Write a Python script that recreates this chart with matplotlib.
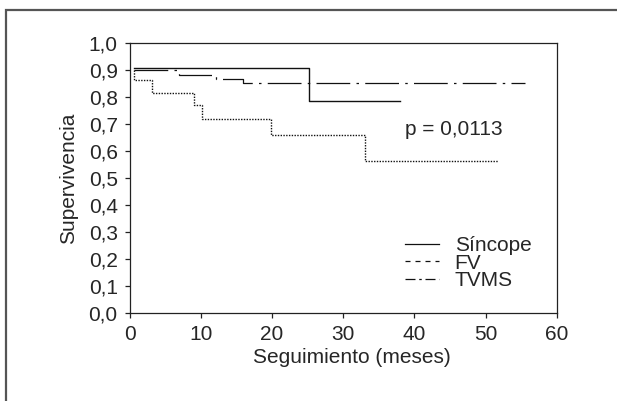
import matplotlib
matplotlib.use("Agg")
import matplotlib.pyplot as plt
from matplotlib.lines import Line2D
from matplotlib.patches import Rectangle

# Kaplan-Meier steps (months, survival)
sincope_t = [0.6, 25.2, 38.0]
sincope_s = [0.91, 0.785, 0.785]

fv_t = [0.6, 0.7, 3.2, 9.1, 10.2, 19.9, 33.1, 51.8]
fv_s = [0.90, 0.863, 0.817, 0.77, 0.718, 0.659, 0.564, 0.564]

tvms_t = [0.6, 7.0, 12.2, 16.0, 55.6]
tvms_s = [0.90, 0.884, 0.867, 0.851, 0.851]

xticks = [0, 10, 20, 30, 40, 50, 60]
yticks = [0.0, 0.1, 0.2, 0.3, 0.4, 0.5, 0.6, 0.7, 0.8, 0.9, 1.0]
ytick_labels = ["0,0", "0,1", "0,2", "0,3", "0,4", "0,5", "0,6", "0,7", "0,8", "0,9", "1,0"]
series_names = ["Síncope", "FV", "TVMS"]
p_text = "p = 0,0113"

plt.rcParams['font.family'] = ['Liberation Sans', 'DejaVu Sans']
txt = '#262626'
fs = 15

fig = plt.figure(figsize=(6.17, 4.01), dpi=100)
ax = fig.add_axes([0.2099, 0.22, 0.6924, 0.672])

# outer frame, runs off the right and bottom edges
fig.patches.append(Rectangle((6 / 617, -0.1), 1.2, (401 - 10) / 401 + 0.1,
                             transform=fig.transFigure, fill=False,
                             edgecolor='#555555', lw=1.6))

dashdot = (0, (27, 5, 2, 5))
dotted = (0, (1, 1))

ax.step(sincope_t, sincope_s, where='post', color='#111111', lw=1.0)
ax.step(fv_t, fv_s, where='post', color='#111111', lw=1.0, linestyle=dotted)
ax.step(tvms_t, tvms_s, where='post', color='#111111', lw=0.9, linestyle=dashdot)

ax.text(38.7, 0.66, p_text, fontsize=fs, color=txt, va='baseline')

handles = [
    Line2D([], [], color='#111111', lw=0.9),
    Line2D([], [], color='#111111', lw=0.9, linestyle=(0, (4, 4))),
    Line2D([], [], color='#111111', lw=0.9, linestyle=(0, (8, 3, 2, 3))),
]
leg = ax.legend(handles, series_names, loc='lower right', bbox_to_anchor=(0.975, 0.03),
                frameon=False, fontsize=fs, handlelength=1.65, handletextpad=0.75,
                labelspacing=-0.08, borderpad=0.2)
for t in leg.get_texts():
    t.set_color(txt)

ax.set_xlim(0, 60)
ax.set_ylim(0, 1.0)
ax.set_xticks(xticks)
ax.set_yticks(yticks)
ax.set_yticklabels(ytick_labels)
ax.tick_params(direction='out', length=3.5, width=0.9, colors='#222222',
               labelsize=fs, labelcolor=txt, pad=5)
for sp in ax.spines.values():
    sp.set_linewidth(0.9)
    sp.set_color('#222222')

ax.set_xlabel("Seguimiento (meses)", fontsize=fs, color=txt, labelpad=3)
ax.xaxis.label.set_x(0.52)
ax.set_ylabel("Supervivencia", fontsize=fs, color=txt, labelpad=7.5)

fig.savefig("out.png", dpi=100)
